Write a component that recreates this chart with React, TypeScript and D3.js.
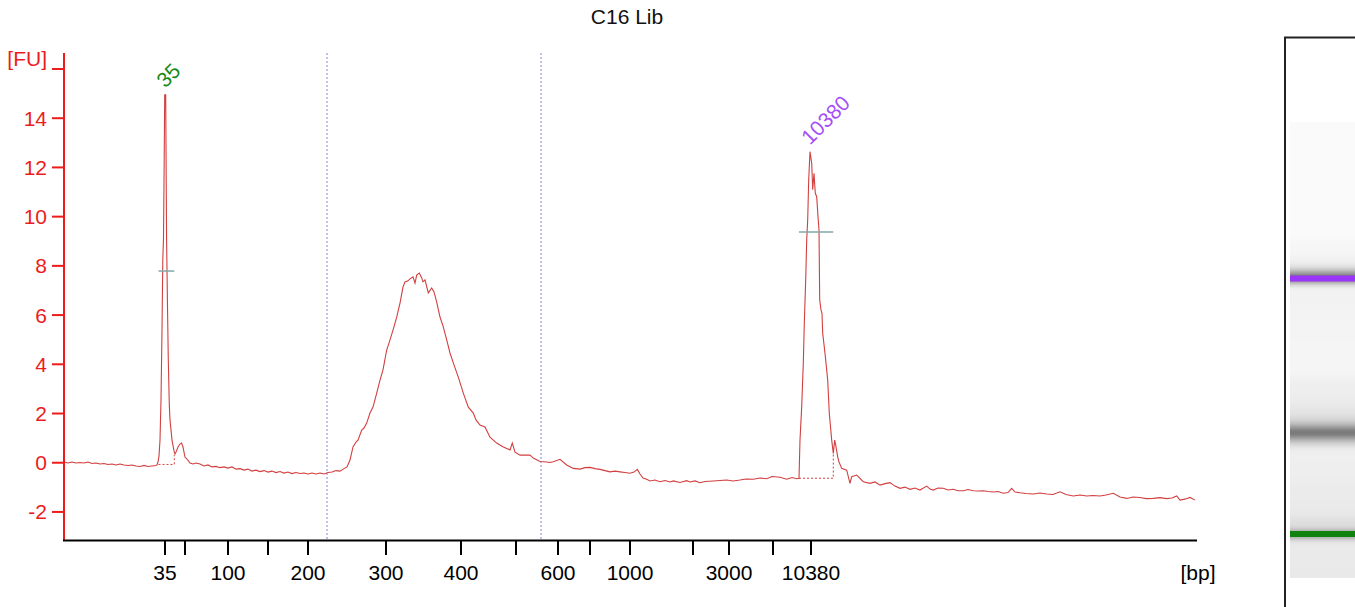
import React from "react";
import * as d3 from "d3";

const TITLE = "C16 Lib";
const Y_UNIT = "[FU]";
const X_UNIT = "[bp]";

// ladder sizes (bp) and their migration times (s)
const ladderBp = [35, 50, 100, 150, 200, 300, 400, 500, 600, 700, 1000, 2000, 3000, 7000, 10380];
const ladderTime = [30.1, 32.1, 36.4, 40.4, 44.4, 52.2, 59.7, 65.2, 69.4, 72.6, 76.6, 82.9, 86.5, 90.9, 94.7];
const labeledBp = [35, 100, 200, 300, 400, 600, 1000, 3000, 10380];

const yTicks = [-2, 0, 2, 4, 6, 8, 10, 12, 14];
const yTopTick = 16;

// smear region markers (s)
const regionTimes = [46.3, 67.7];

// peaks
const peakNames = ["35", "10380"];
const peakTimes = [30.12, 94.6];
const peakFU = [14.95, 12.64];
const peakColors = ["#1a8a1a", "#a550f7"];
const peakWidthFU = [7.79, 9.38];
const peakStart = [29.45, 93.5];
const peakEnd = [31.03, 96.93];
const peakBaseFU = [-0.07, -0.63];
const peakEndFU = [0.31, 0.38];

// electropherogram trace: [time (s), fluorescence (FU)]
const trace: [number, number][] = [
  [20.0, 0.03], [20.4, -0.01], [20.8, 0.03], [21.2, -0.01], [21.6, 0.01], [22.0, -0.01],
  [22.4, 0.03], [22.8, -0.03], [23.2, -0.01], [23.6, -0.05], [24.0, -0.03], [24.4, -0.07],
  [24.8, -0.05], [25.2, -0.09], [25.6, -0.05], [26.0, -0.09], [26.4, -0.11], [26.8, -0.09],
  [27.2, -0.13], [27.6, -0.15], [28.0, -0.11], [28.4, -0.15], [28.8, -0.13], [29.2, -0.11],
  [29.3, -0.09], [29.4, 0.03], [29.5, 0.27], [29.6, 0.92], [29.7, 2.55], [29.8, 5.39],
  [29.88, 8.24], [29.95, 9.13], [30.02, 12.3], [30.07, 14.95], [30.17, 14.95], [30.22, 11.49],
  [30.26, 9.05], [30.34, 6.61], [30.43, 4.17], [30.53, 2.35], [30.6, 1.74], [30.8, 0.92],
  [31.0, 0.48], [31.1, 0.35], [31.2, 0.43], [31.4, 0.64], [31.6, 0.76], [31.75, 0.8],
  [31.9, 0.64], [32.0, 0.43], [32.1, 0.23], [32.3, 0.15], [32.6, -0.01], [32.9, -0.05],
  [33.2, -0.01], [33.6, -0.05], [34.0, -0.13], [34.4, -0.09], [34.8, -0.17], [35.2, -0.15],
  [35.6, -0.2], [36.0, -0.17], [36.4, -0.22], [36.8, -0.17], [37.2, -0.26], [37.6, -0.24],
  [38.0, -0.3], [38.4, -0.26], [38.8, -0.34], [39.2, -0.3], [39.6, -0.36], [40.0, -0.32],
  [40.4, -0.38], [40.8, -0.34], [41.2, -0.4], [41.6, -0.36], [42.0, -0.42], [42.4, -0.38],
  [42.8, -0.44], [43.2, -0.4], [43.6, -0.44], [44.0, -0.42], [44.4, -0.46], [44.8, -0.42],
  [45.2, -0.46], [45.6, -0.42], [46.0, -0.46], [46.4, -0.4], [46.8, -0.38], [47.2, -0.32],
  [47.6, -0.34], [48.0, -0.24], [48.3, -0.17], [48.6, 0.11], [48.9, 0.64], [49.2, 0.84],
  [49.4, 0.92], [49.77, 1.33], [50.0, 1.41], [50.27, 1.61], [50.6, 2.02], [50.9, 2.26],
  [51.27, 2.83], [51.6, 3.36], [51.9, 3.77], [52.27, 4.58], [52.6, 4.99], [52.9, 5.39],
  [53.27, 5.92], [53.6, 6.49], [53.9, 7.14], [54.1, 7.35], [54.4, 7.39], [54.6, 7.47],
  [54.9, 7.55], [55.1, 7.3], [55.27, 7.63], [55.53, 7.71], [55.77, 7.51], [55.9, 7.35],
  [56.1, 7.43], [56.43, 6.9], [56.77, 7.1], [57.0, 6.94], [57.27, 6.53], [57.6, 5.92],
  [57.93, 5.52], [58.27, 4.99], [58.6, 4.46], [58.93, 4.06], [59.43, 3.48], [59.93, 2.83],
  [60.43, 2.26], [60.93, 2.02], [61.2, 1.74], [61.6, 1.53], [62.1, 1.45], [62.6, 1.04],
  [63.27, 0.8], [63.93, 0.64], [64.6, 0.52], [64.83, 0.8], [65.1, 0.43], [65.6, 0.31],
  [66.27, 0.31], [66.6, 0.31], [66.93, 0.19], [67.6, 0.05], [68.27, 0.03], [68.6, 0.01],
  [68.93, 0.04], [69.6, 0.14], [70.27, -0.09], [70.6, -0.16], [70.93, -0.23], [71.6, -0.26],
  [72.1, -0.2], [72.6, -0.19], [73.1, -0.24], [73.6, -0.27], [74.1, -0.32], [74.6, -0.37],
  [75.1, -0.34], [75.6, -0.37], [76.1, -0.4], [76.6, -0.43], [77.0, -0.38], [77.33, -0.27],
  [77.6, -0.46], [77.9, -0.62], [78.27, -0.67], [78.6, -0.74], [79.1, -0.7], [79.6, -0.77],
  [80.1, -0.72], [80.6, -0.78], [80.93, -0.74], [81.6, -0.8], [82.27, -0.73], [82.6, -0.78],
  [83.1, -0.74], [83.6, -0.81], [84.1, -0.76], [84.93, -0.74], [85.6, -0.72], [86.27, -0.7],
  [86.9, -0.74], [87.6, -0.7], [88.2, -0.66], [88.93, -0.67], [89.6, -0.62], [90.27, -0.65],
  [90.8, -0.56], [91.6, -0.59], [92.27, -0.67], [92.8, -0.6], [93.27, -0.65], [93.5, -0.63],
  [93.6, 0.92], [93.77, 2.28], [93.93, 4.04], [94.03, 5.67], [94.17, 7.43], [94.27, 9.05],
  [94.37, 9.87], [94.47, 11.49], [94.6, 12.64], [94.77, 12.17], [94.87, 11.09], [95.0, 11.76],
  [95.13, 10.95], [95.27, 10.81], [95.4, 10.0], [95.5, 9.46], [95.57, 6.61], [95.7, 6.21],
  [95.8, 6.07], [95.87, 5.26], [96.1, 4.45], [96.37, 3.36], [96.53, 2.01], [96.77, 0.92],
  [96.93, 0.38], [97.07, 0.92], [97.2, 0.65], [97.37, 0.24], [97.5, 0.03], [97.77, -0.23],
  [98.27, -0.3], [98.6, -0.84], [98.77, -0.57], [99.27, -0.5], [99.93, -0.77], [100.6, -0.84],
  [101.1, -0.78], [101.6, -0.91], [102.1, -0.85], [102.6, -0.81], [103.1, -0.95], [103.6, -1.04],
  [104.1, -0.99], [104.6, -1.08], [105.1, -1.03], [105.6, -1.11], [106.27, -0.95], [106.6, -1.07],
  [106.93, -1.11], [107.4, -1.03], [107.93, -1.04], [108.4, -1.11], [108.93, -1.08], [109.4, -1.14],
  [109.93, -1.14], [110.4, -1.09], [110.93, -1.14], [111.4, -1.15], [111.93, -1.14], [112.4, -1.17],
  [112.93, -1.19], [113.4, -1.17], [113.93, -1.24], [114.4, -1.21], [114.77, -1.04], [115.1, -1.19],
  [115.6, -1.22], [116.2, -1.25], [116.93, -1.27], [117.6, -1.23], [118.27, -1.27], [118.9, -1.29],
  [119.6, -1.18], [120.2, -1.29], [120.93, -1.35], [121.6, -1.31], [122.27, -1.35], [122.9, -1.33],
  [123.6, -1.35], [124.2, -1.31], [124.93, -1.24], [125.6, -1.39], [126.27, -1.45], [126.9, -1.39],
  [127.6, -1.41], [128.2, -1.46], [128.93, -1.45], [129.6, -1.42], [130.27, -1.46], [130.8, -1.43],
  [131.27, -1.35], [131.6, -1.52], [132.1, -1.48], [132.6, -1.41], [133.1, -1.52],
];

const W = 1355;
const H = 607;
const FONT = "'Liberation Sans', Arial, sans-serif";
const FS = 21;
const RED = "#ec1c1c";
const TRACE = "#d23f3f";

export default function App() {
  const x = d3.scaleLinear().domain([20, 133.3]).range([64, 1197]);
  const y = d3.scaleLinear().domain([-3.14, 16.65]).range([540, 53]);
  const timeOfBp = (bp: number) => ladderTime[ladderBp.indexOf(bp)];

  const line = d3
    .line<[number, number]>()
    .x((d) => x(d[0]))
    .y((d) => y(d[1]))
    .curve(d3.curveLinear);

  // gel view
  const logBp = d3.scaleLinear().domain(ladderTime).range(ladderBp.map(Math.log10));
  const gelY = d3
    .scaleLinear()
    .domain([Math.log10(35), Math.log10(10380)])
    .range([534, 278.5]);
  const laneX = 1290;
  const laneW = 70;
  const laneTop = 122;
  const laneBottom = 578;
  const gray = (fu: number) => {
    const g = Math.round(Math.max(100, Math.min(250, 232 - 17 * fu)));
    return `rgb(${g},${g},${g})`;
  };
  const gelRects = [] as { y: number; h: number; fill: string }[];
  for (let i = 0; i < trace.length - 1; i++) {
    const y1 = gelY(logBp(trace[i][0]));
    const y2 = gelY(logBp(trace[i + 1][0]));
    gelRects.push({
      y: Math.min(y1, y2) - 0.5,
      h: Math.abs(y2 - y1) + 1,
      fill: gray((trace[i][1] + trace[i + 1][1]) / 2),
    });
  }

  return (
    <svg
      width={W}
      height={H}
      style={{ position: "absolute", left: 0, top: 0, background: "#fff" }}
      fontFamily={FONT}
    >
      <defs>
        <filter id="gelBlur" x="0" y="-0.2" width="1" height="1.4">
          <feGaussianBlur stdDeviation="0 3" />
        </filter>
        <clipPath id="laneClip">
          <rect x={laneX} y={laneTop} width={laneW} height={laneBottom - laneTop} />
        </clipPath>
      </defs>

      <text x={627} y={24} textAnchor="middle" fontSize={FS} fill="#111">
        {TITLE}
      </text>

      {/* region markers */}
      {regionTimes.map((t, i) => (
        <line
          key={i}
          x1={x(t)}
          x2={x(t)}
          y1={53}
          y2={540}
          stroke="#8282e2"
          strokeWidth={1}
          strokeDasharray="2,2"
        />
      ))}

      {/* peak baselines */}
      {peakNames.map((n, i) => (
        <path
          key={n}
          d={`M${x(peakStart[i])},${y(peakBaseFU[i])}H${x(peakEnd[i])}V${y(peakEndFU[i])}`}
          fill="none"
          stroke={TRACE}
          strokeWidth={1}
          strokeDasharray="2,2"
        />
      ))}

      {/* trace */}
      <path d={line(trace) || ""} fill="none" stroke={TRACE} strokeWidth={1.1} />

      {/* peak width markers */}
      {peakNames.map((n, i) => (
        <line
          key={n}
          x1={x(peakStart[i])}
          x2={x(peakEnd[i])}
          y1={y(peakWidthFU[i])}
          y2={y(peakWidthFU[i])}
          stroke="#7fa9a6"
          strokeWidth={1.5}
        />
      ))}

      {/* peak labels */}
      {peakNames.map((n, i) => {
        const px = x(peakTimes[i]);
        const py = y(peakFU[i]) - 6;
        return (
          <text
            key={n}
            x={px}
            y={py}
            transform={`rotate(-45 ${px} ${py})`}
            fontSize={FS}
            fill={peakColors[i]}
          >
            {n}
          </text>
        );
      })}

      {/* y axis */}
      <line x1={64} x2={64} y1={53} y2={541} stroke={RED} strokeWidth={2} />
      {[...yTicks, yTopTick].map((v) => (
        <line key={v} x1={52} x2={64} y1={y(v)} y2={y(v)} stroke={RED} strokeWidth={2} />
      ))}
      {yTicks.map((v) => (
        <text key={v} x={47} y={y(v) + 7.5} textAnchor="end" fontSize={FS} fill={RED}>
          {v}
        </text>
      ))}
      <text x={47} y={y(yTopTick) - 3} textAnchor="end" fontSize={FS} fill={RED}>
        {Y_UNIT}
      </text>

      {/* x axis */}
      <line x1={63} x2={1197} y1={540.5} y2={540.5} stroke="#000" strokeWidth={2} />
      {ladderBp.map((bp) => (
        <line
          key={bp}
          x1={x(timeOfBp(bp))}
          x2={x(timeOfBp(bp))}
          y1={541}
          y2={555}
          stroke="#000"
          strokeWidth={2}
        />
      ))}
      {labeledBp.map((bp) => (
        <text key={bp} x={x(timeOfBp(bp))} y={580} textAnchor="middle" fontSize={FS} fill="#000">
          {bp}
        </text>
      ))}
      <text x={1198} y={580} textAnchor="middle" fontSize={FS} fill="#000">
        {X_UNIT}
      </text>

      {/* gel lane */}
      <g clipPath="url(#laneClip)">
        <rect x={laneX} y={laneTop} width={laneW} height={laneBottom - laneTop} fill="#ececec" />
        <g filter="url(#gelBlur)">
          {gelRects.map((r, i) => (
            <rect key={i} x={laneX} y={r.y} width={laneW} height={r.h} fill={r.fill} />
          ))}
        </g>
        <rect x={laneX} y={gelY(Math.log10(10380)) - 3} width={laneW} height={6} fill="#9a35f7" />
        <rect x={laneX} y={gelY(Math.log10(35)) - 3} width={laneW} height={6} fill="#108210" />
      </g>
      <path d={`M1285,${H}V37.5H${W}`} fill="none" stroke="#222" strokeWidth={2} />
    </svg>
  );
}
